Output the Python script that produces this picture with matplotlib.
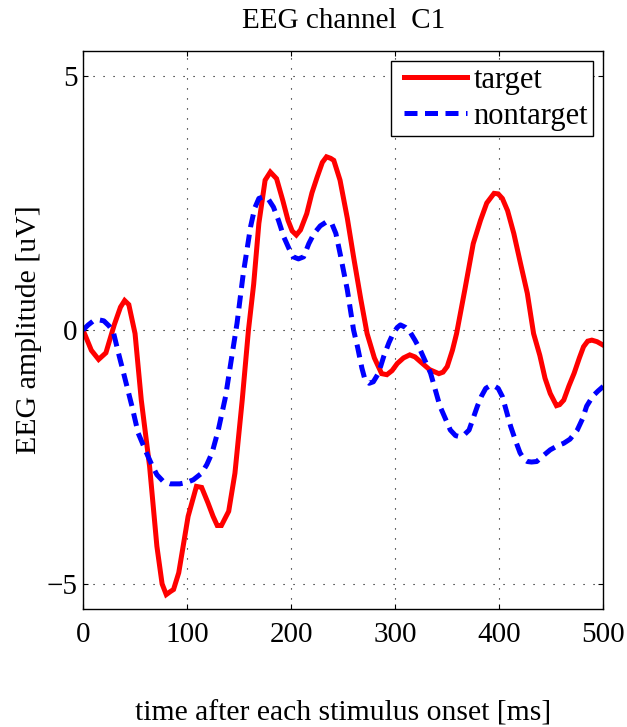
import matplotlib
matplotlib.use("Agg")
import matplotlib.pyplot as plt
from matplotlib.legend_handler import HandlerLine2D

plt.rcParams['font.family'] = ['Liberation Serif', 'DejaVu Serif']
plt.rcParams['mathtext.fontset'] = 'stix'

# ---- data ----
t_target = [0, 8, 15, 22, 30, 36, 40, 44, 50, 56, 64, 71, 76, 80, 84, 87, 92, 101, 109, 114,
            120, 125, 129, 133, 140, 146, 153, 159, 164, 169, 175, 180, 186, 192, 197, 201, 205,
            209, 215, 220, 225, 230, 234, 238, 241, 247, 254, 260, 267, 273, 280, 287, 292, 297,
            302, 308, 314, 319, 324, 333, 342, 346, 350, 355, 359, 367, 375, 382, 388, 395, 399,
            403, 408, 414, 420, 427, 433, 439, 444, 449, 455, 458, 462, 467, 472, 477, 481, 485,
            489, 494, 500]
v_target = [0.0, -0.4, -0.58, -0.45, 0.1, 0.45, 0.58, 0.5, -0.07, -1.38, -2.69, -4.26, -5.0,
            -5.21, -5.15, -5.11, -4.78, -3.67, -3.08, -3.1, -3.4, -3.67, -3.85, -3.85, -3.57,
            -2.82, -1.38, 0.0, 0.9, 2.1, 2.95, 3.11, 2.98, 2.55, 2.16, 1.95, 1.87, 1.97, 2.29,
            2.7, 3.01, 3.3, 3.41, 3.38, 3.34, 2.95, 2.2, 1.44, 0.6, -0.07, -0.55, -0.86, -0.88,
            -0.8, -0.66, -0.55, -0.49, -0.53, -0.62, -0.78, -0.86, -0.83, -0.72, -0.4, -0.07,
            0.8, 1.7, 2.16, 2.5, 2.69, 2.68, 2.59, 2.35, 1.9, 1.35, 0.72, -0.07, -0.5, -0.95,
            -1.25, -1.49, -1.47, -1.38, -1.1, -0.85, -0.55, -0.33, -0.22, -0.2, -0.23, -0.3]

t_nontarget = [0, 5, 10, 15, 20, 25, 29, 34, 39, 47, 53, 61, 66, 71, 77, 84, 93, 100, 106, 114,
               119, 124, 130, 137, 143, 148, 154, 161, 165, 169, 173, 178, 183, 188, 193, 198,
               202, 207, 212, 217, 222, 228, 234, 239, 243, 247, 254, 260, 264, 268, 271, 275,
               279, 284, 289, 294, 298, 302, 305, 310, 314, 319, 324, 329, 334, 343, 353, 358,
               362, 367, 371, 379, 383, 387, 391, 395, 399, 403, 411, 416, 420, 424, 427, 431,
               436, 442, 449, 456, 462, 468, 475, 480, 484, 490, 495, 500]
v_nontarget = [0.0, 0.1, 0.18, 0.2, 0.18, 0.08, -0.03, -0.45, -0.85, -1.5, -2.03, -2.42, -2.65,
               -2.85, -2.98, -3.03, -3.03, -3.0, -2.95, -2.82, -2.65, -2.42, -1.97, -1.31, -0.52,
               0.13, 1.11, 2.03, 2.4, 2.59, 2.62, 2.58, 2.42, 2.15, 1.83, 1.6, 1.44, 1.4, 1.44,
               1.7, 1.9, 2.05, 2.13, 2.1, 1.9, 1.51, 0.79, 0.0, -0.35, -0.75, -0.98, -1.05, -1.02,
               -0.85, -0.52, -0.25, -0.07, 0.05, 0.1, 0.05, -0.03, -0.2, -0.39, -0.62, -0.85,
               -1.5, -1.97, -2.08, -2.1, -2.05, -1.97, -1.5, -1.3, -1.15, -1.1, -1.1, -1.15,
               -1.31, -1.9, -2.2, -2.42, -2.55, -2.59, -2.6, -2.59, -2.48, -2.36, -2.28, -2.23,
               -2.15, -1.97, -1.75, -1.5, -1.3, -1.2, -1.11]

series_labels = ['target', 'nontarget']
x_ticks = [0, 100, 200, 300, 400, 500]
y_ticks = [-5, 0, 5]
y_tick_labels = ['\u22125', '0', '5']

fig = plt.figure(figsize=(6.27, 7.27), dpi=100)
ax = fig.add_axes([0.1324, 0.1619, 0.8298, 0.7684])

l1, = ax.plot(t_target, v_target, color='#ff0000', lw=3.6, label=series_labels[0],
              solid_joinstyle='miter')
l2, = ax.plot(t_nontarget, v_nontarget, color='#0000ff', lw=3.6, label=series_labels[1],
              dashes=(2.6, 1.5))

ax.set_xlim(0, 500)
ax.set_ylim(-5.5, 5.5)
ax.set_xticks(x_ticks)
ax.set_yticks(y_ticks)
ax.set_yticklabels(y_tick_labels)
ax.grid(True, color='black', linestyle=(0, (1, 8)), linewidth=0.8)
ax.tick_params(direction='in', top=True, right=True, length=3.6, width=0.8,
               labelsize=21)
ax.tick_params(axis='x', pad=9)
ax.tick_params(axis='y', pad=4)
for s in ax.spines.values():
    s.set_linewidth(1.0)

ax.set_title('EEG channel  C1', fontsize=21, pad=16)
ax.set_xlabel('time after each stimulus onset [ms]', fontsize=21.3, labelpad=38)
ax.set_ylabel('EEG amplitude [uV]', fontsize=21.5, labelpad=3)

hmap = {l1: HandlerLine2D(xpad=0.26), l2: HandlerLine2D(xpad=0.26)}
leg = ax.legend(loc='upper right', fontsize=22, frameon=True, fancybox=False,
                edgecolor='black', framealpha=1, borderpad=0.17, handlelength=2.3,
                handletextpad=0.22, labelspacing=0.22, borderaxespad=0.33,
                handler_map=hmap)
leg.get_frame().set_linewidth(1.0)

fig.savefig('out.png', dpi=100)
